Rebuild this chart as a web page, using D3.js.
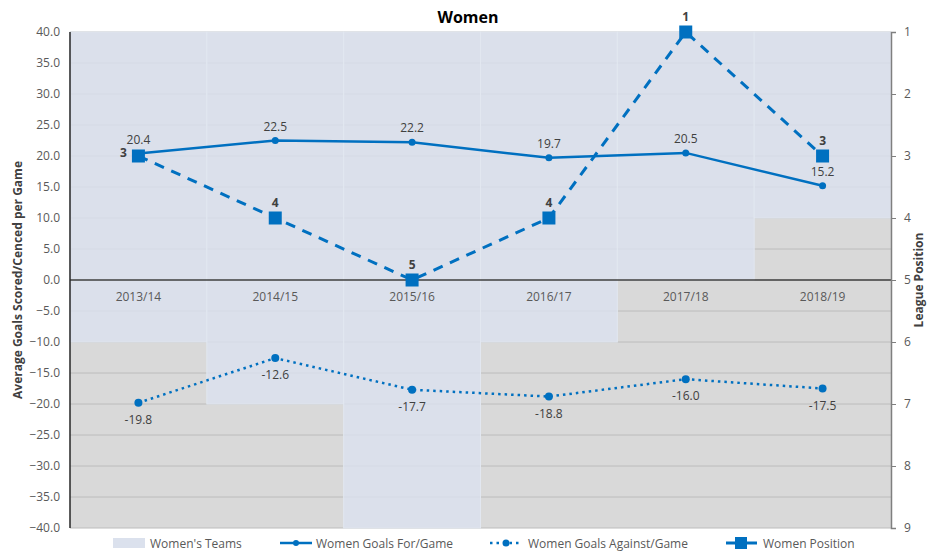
<!DOCTYPE html>
<html lang="en">
<head><meta charset="utf-8"><title>Women</title>
<style>
body { margin: 0; background: #fff; }
svg text { font-family: "Open Sans", Lato, sans-serif; }
</style>
</head>
<body>
<svg width="928" height="551"></svg>
<script src="https://cdn.jsdelivr.net/npm/d3@7"></script>
<script>
// chart data
var seasons = ["2013/14", "2014/15", "2015/16", "2016/17", "2017/18", "2018/19"];
var teams = [6, 7, 9, 6, 5, 4];
var goalsFor = [20.4, 22.5, 22.2, 19.7, 20.5, 15.2];
var goalsAgainst = [-19.8, -12.6, -17.7, -18.8, -16.0, -17.5];
var position = [3, 4, 5, 4, 1, 3];
var leftTicks = [40, 35, 30, 25, 20, 15, 10, 5, 0, -5, -10, -15, -20, -25, -30, -35, -40];
var rightTicks = [1, 2, 3, 4, 5, 6, 7, 8, 9];

var blue = "#0070c0";
var svg = d3.select("svg");
// note: "top" is a window property, so use other names for the plot box
var plotL = 70, plotR = 891, plotT = 32, plotB = 528;

var x = d3.scaleBand().domain(seasons).range([plotL, plotR]).padding(0);
var y = d3.scaleLinear().domain([-40, 40]).range([plotB, plotT]);
var y2 = d3.scaleLinear().domain([1, 9]).range([plotT, plotB]);
var cx = function(i) { return x(seasons[i]) + x.bandwidth() / 2; };

// plot background
svg.append("rect").attr("x", plotL).attr("y", plotT)
    .attr("width", plotR - plotL).attr("height", plotB - plotT).attr("fill", "#d9d9d9");

// gridlines
svg.append("g").selectAll("line").data(leftTicks).enter().append("line")
    .attr("x1", plotL).attr("x2", plotR)
    .attr("y1", function(d) { return y(d); }).attr("y2", function(d) { return y(d); })
    .attr("stroke", "#bcbcbc").attr("stroke-width", 1);

// Women's Teams bars (from top of reversed axis down to value)
svg.append("g").selectAll("rect").data(teams).enter().append("rect")
    .attr("x", function(d, i) { return x(seasons[i]); })
    .attr("y", plotT)
    .attr("width", x.bandwidth())
    .attr("height", function(d) { return y2(d) - plotT; })
    .attr("fill", "#dbe1ed").attr("fill-opacity", 0.85)
    .attr("stroke", "#e2e7f0").attr("stroke-width", 1);

// zero line and left axis line
svg.append("line").attr("x1", plotL).attr("x2", plotR).attr("y1", y(0)).attr("y2", y(0))
    .attr("stroke", "#404040").attr("stroke-width", 1.5);
svg.append("line").attr("x1", plotL).attr("x2", plotL).attr("y1", plotT).attr("y2", plotB)
    .attr("stroke", "#262626").attr("stroke-width", 1.5);

// left axis labels
var yAxis = d3.axisLeft(y).tickValues(leftTicks).tickFormat(d3.format(".1f")).tickSize(0).tickPadding(10);
var ga = svg.append("g").attr("transform", "translate(" + plotL + ",0)").call(yAxis);
ga.select(".domain").remove();
ga.selectAll("text").attr("fill", "#595959").style("font-size", "12px");

// right axis
var y2Axis = d3.axisRight(y2).tickValues(rightTicks).tickSize(5).tickPadding(8);
var gr = svg.append("g").attr("transform", "translate(" + plotR + ",0)").call(y2Axis);
gr.select(".domain").attr("stroke", "#7f7f7f").attr("stroke-width", 1.5);
gr.selectAll(".tick line").attr("stroke", "#7f7f7f");
gr.selectAll("text").attr("fill", "#595959").style("font-size", "12px");

// category labels sitting under the zero line
svg.append("g").selectAll("text").data(seasons).enter().append("text")
    .attr("x", function(d, i) { return cx(i); }).attr("y", y(0) + 21)
    .attr("text-anchor", "middle").attr("fill", "#595959").style("font-size", "12px")
    .text(function(d) { return d; });

// lines
var line = d3.line().x(function(d, i) { return cx(i); }).y(function(d) { return y(d); });
var line2 = d3.line().x(function(d, i) { return cx(i); }).y(function(d) { return y2(d); });

svg.append("path").datum(goalsAgainst).attr("d", line).attr("fill", "none")
    .attr("stroke", blue).attr("stroke-width", 2.5).attr("stroke-dasharray", "2.5,4");
svg.append("g").selectAll("circle").data(goalsAgainst).enter().append("circle")
    .attr("cx", function(d, i) { return cx(i); }).attr("cy", function(d) { return y(d); })
    .attr("r", 4).attr("fill", blue);

svg.append("path").datum(position).attr("d", line2).attr("fill", "none")
    .attr("stroke", blue).attr("stroke-width", 3).attr("stroke-dasharray", "10,8");

svg.append("path").datum(goalsFor).attr("d", line).attr("fill", "none")
    .attr("stroke", blue).attr("stroke-width", 2.5);
svg.append("g").selectAll("circle").data(goalsFor).enter().append("circle")
    .attr("cx", function(d, i) { return cx(i); }).attr("cy", function(d) { return y(d); })
    .attr("r", 3.5).attr("fill", blue);

svg.append("g").selectAll("rect").data(position).enter().append("rect")
    .attr("x", function(d, i) { return cx(i) - 6.5; }).attr("y", function(d) { return y2(d) - 6.5; })
    .attr("width", 13).attr("height", 13).attr("fill", blue);

// data labels
svg.append("g").selectAll("text").data(goalsFor).enter().append("text")
    .attr("x", function(d, i) { return cx(i); }).attr("y", function(d) { return y(d) - 10; })
    .attr("text-anchor", "middle").attr("fill", "#404040").style("font-size", "12px")
    .text(function(d) { return d.toFixed(1); });
svg.append("g").selectAll("text").data(goalsAgainst).enter().append("text")
    .attr("x", function(d, i) { return cx(i); }).attr("y", function(d) { return y(d) + 21; })
    .attr("text-anchor", "middle").attr("fill", "#404040").style("font-size", "12px")
    .text(function(d) { return d.toFixed(1); });
svg.append("g").selectAll("text").data(position).enter().append("text")
    .attr("x", function(d, i) { return i === 0 ? cx(i) - 15 : cx(i); })
    .attr("y", function(d, i) { return i === 0 ? y2(d) + 1 : y2(d) - 11; })
    .attr("text-anchor", "middle").attr("fill", "#404040")
    .style("font-size", "12px").style("font-weight", "bold")
    .text(function(d) { return d; });

// title and axis titles
svg.append("text").attr("x", 468).attr("y", 23).attr("text-anchor", "middle")
    .style("font-size", "16px").style("font-weight", "bold").attr("fill", "#000").text("Women");
svg.append("text").attr("transform", "translate(22," + (plotT + plotB) / 2 + ") rotate(-90)")
    .attr("text-anchor", "middle").style("font-size", "12px").style("font-weight", "bold")
    .attr("fill", "#404040").text("Average Goals Scored/Cenced per Game");
svg.append("text").attr("transform", "translate(923," + (plotT + plotB) / 2 + ") rotate(-90)")
    .attr("text-anchor", "middle").style("font-size", "12px").style("font-weight", "bold")
    .attr("fill", "#404040").text("League Position");

// legend
var lg = svg.append("g").attr("transform", "translate(0,543)");
lg.append("rect").attr("x", 113).attr("y", -5).attr("width", 32).attr("height", 10).attr("fill", "#dbe1ed");
lg.append("text").attr("x", 150).attr("y", 4.5).text("Women's Teams");

lg.append("line").attr("x1", 280).attr("x2", 312).attr("y1", 0).attr("y2", 0)
    .attr("stroke", blue).attr("stroke-width", 2.5);
lg.append("circle").attr("cx", 296).attr("cy", 0).attr("r", 3).attr("fill", blue);
lg.append("text").attr("x", 316).attr("y", 4.5).text("Women Goals For/Game");

lg.append("line").attr("x1", 490).attr("x2", 522).attr("y1", 0).attr("y2", 0)
    .attr("stroke", blue).attr("stroke-width", 2.5).attr("stroke-dasharray", "2.5,4");
lg.append("circle").attr("cx", 506).attr("cy", 0).attr("r", 3.5).attr("fill", blue);
lg.append("text").attr("x", 528).attr("y", 4.5).text("Women Goals Against/Game");

lg.append("line").attr("x1", 726).attr("x2", 757).attr("y1", 0).attr("y2", 0)
    .attr("stroke", blue).attr("stroke-width", 3);
lg.append("rect").attr("x", 735).attr("y", -6).attr("width", 12).attr("height", 12).attr("fill", blue);
lg.append("text").attr("x", 763).attr("y", 4.5).text("Women Position");
lg.selectAll("text").attr("fill", "#595959").style("font-size", "12px");
</script>
</body>
</html>
